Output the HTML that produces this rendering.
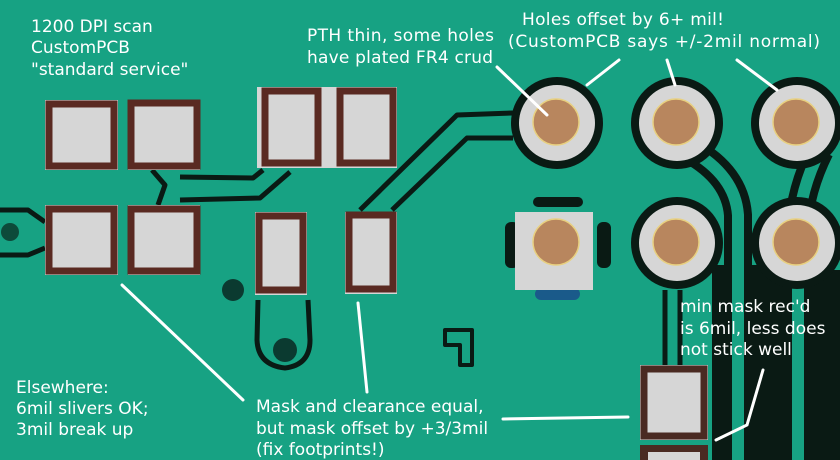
<!DOCTYPE html>
<html><head><meta charset="utf-8"><style>
html,body{margin:0;padding:0;background:#17a283}
svg{display:block}
text{font-family:"DejaVu Sans","Liberation Sans",sans-serif;font-size:17px;fill:#fff}
</style></head><body>
<svg width="840" height="460" viewBox="0 0 840 460" xmlns="http://www.w3.org/2000/svg">
<rect width="840" height="460" fill="#17a283"/>
<!-- right dark region -->
<g fill="#0a1a14">
<rect x="712" y="265" width="22" height="195"/>
<rect x="744" y="265" width="48" height="195"/>
<rect x="805" y="270" width="35" height="190"/>
</g>
<path d="M690 150 Q735 175 738 215 L738 460" fill="none" stroke="#0a1a14" stroke-width="28"/>
<path d="M820 150 Q800 190 798 230 L798 460" fill="none" stroke="#0a1a14" stroke-width="28"/>
<path d="M690 150 Q735 175 738 215 L738 460" fill="none" stroke="#17a283" stroke-width="12"/>
<path d="M820 150 Q800 190 798 230 L798 460" fill="none" stroke="#17a283" stroke-width="12"/>
<!-- trace lines -->
<g fill="none" stroke="#0a1a14" stroke-width="5" stroke-linejoin="round">
<path d="M513 113 L457 115 L360 210"/>
<path d="M513 138 L467 138 L392 210"/>
<path d="M180 177 L253 178 L263 170"/>
<path d="M180 200 L260 198 L290 172"/>
<path d="M152 170 L165 185 L158 205"/>
<path d="M0 210 L28 210 L45 222"/>
<path d="M0 255 L28 255 L45 248"/>
<path d="M665 290 L665 365"/>
<path d="M680 290 L680 365"/>
<path d="M258 300 L257 340 Q258 365 285 368 Q310 365 310 340 L308 300"/>
<path d="M445 330 L445 345 L460 345 L460 365 L472 365 L472 330 Z" stroke-width="4"/>
</g>
<circle cx="10" cy="232" r="9" fill="#0d4a3a"/>
<circle cx="233" cy="290" r="11" fill="#0b3a30"/>
<circle cx="285" cy="350" r="12" fill="#0b3a30"/>
<!-- small pads -->
<g>
<rect x="45" y="100" width="73" height="70" fill="#d6d6d6"/>
<rect x="49" y="104" width="65" height="62" fill="none" stroke="#5a2a22" stroke-width="7"/>
<rect x="128" y="100" width="72" height="70" fill="#d6d6d6"/>
<rect x="131" y="103" width="66" height="63" fill="none" stroke="#5a2a22" stroke-width="7"/>
<rect x="45" y="205" width="73" height="70" fill="#d6d6d6"/>
<rect x="49" y="209" width="65" height="62" fill="none" stroke="#5a2a22" stroke-width="7"/>
<rect x="128" y="205" width="72" height="70" fill="#d6d6d6"/>
<rect x="131" y="209" width="66" height="62" fill="none" stroke="#5a2a22" stroke-width="7"/>
<rect x="257" y="87" width="140" height="81" fill="#d6d6d6"/>
<rect x="265" y="91" width="53" height="72" fill="none" stroke="#5a2a22" stroke-width="7"/>
<rect x="340" y="91" width="53" height="72" fill="none" stroke="#5a2a22" stroke-width="7"/>
<rect x="255" y="212" width="52" height="83" fill="#d6d6d6"/>
<rect x="259" y="216" width="44" height="74" fill="none" stroke="#5a2a22" stroke-width="7"/>
<rect x="345" y="212" width="52" height="82" fill="#d6d6d6"/>
<rect x="349" y="215" width="44" height="74" fill="none" stroke="#5a2a22" stroke-width="7"/>
<rect x="640" y="365" width="68" height="75" fill="#d6d6d6"/>
<rect x="644" y="369" width="60" height="67" fill="none" stroke="#4a2a22" stroke-width="7"/>
<rect x="640" y="445" width="68" height="15" fill="#4a2a22"/>
<rect x="648" y="452" width="52" height="8" fill="#d6d6d6"/>
</g>
<!-- holes -->
<g>
<circle cx="557" cy="123" r="46" fill="#0a1a14"/>
<circle cx="677" cy="123" r="46" fill="#0a1a14"/>
<circle cx="797" cy="123" r="46" fill="#0a1a14"/>
<circle cx="677" cy="243" r="46" fill="#0a1a14"/>
<circle cx="797" cy="243" r="46" fill="#0a1a14"/>
<rect x="533" y="197" width="50" height="10" rx="5" fill="#0a1a14"/>
<rect x="505" y="222" width="14" height="46" rx="6" fill="#0a1a14"/>
<rect x="597" y="222" width="14" height="46" rx="6" fill="#0a1a14"/>
<rect x="535" y="288" width="45" height="12" rx="6" fill="#1a5a8a"/>
<rect x="515" y="212" width="78" height="78" fill="#d6d6d6"/>
<circle cx="557" cy="123" r="38" fill="#d6d6d6"/>
<circle cx="677" cy="123" r="38" fill="#d6d6d6"/>
<circle cx="797" cy="123" r="38" fill="#d6d6d6"/>
<circle cx="677" cy="243" r="38" fill="#d6d6d6"/>
<circle cx="797" cy="243" r="38" fill="#d6d6d6"/>
<g fill="#b8865e" stroke="#e8d080" stroke-width="1.5">
<circle cx="556" cy="122" r="23"/>
<circle cx="676" cy="122" r="23"/>
<circle cx="796" cy="122" r="23"/>
<circle cx="556" cy="242" r="23"/>
<circle cx="676" cy="242" r="23"/>
<circle cx="796" cy="242" r="23"/>
</g>
</g>
<!-- leader lines -->
<g stroke="#fff" stroke-width="3" fill="none" stroke-linecap="round">
<path d="M497 67 L547 115"/>
<path d="M619 60 L587 85"/>
<path d="M667 60 L675 85"/>
<path d="M737 60 L777 90"/>
<path d="M122 285 L243 400"/>
<path d="M358 303 L367 392"/>
<path d="M503 419 L628 417"/>
<path d="M763 370 L747 425 L716 440"/>
</g>
<!-- text -->
<text x="31" y="32">1200 DPI scan</text>
<text x="31" y="53">CustomPCB</text>
<text x="31" y="75">"standard service"</text>
<text x="307" y="41" textLength="187">PTH thin, some holes</text>
<text x="307" y="63" textLength="186">have plated FR4 crud</text>
<text x="522" y="25" textLength="202">Holes offset by 6+ mil!</text>
<text x="508" y="47" textLength="312">(CustomPCB says +/-2mil normal)</text>
<text x="680" y="312">min mask rec'd</text>
<text x="680" y="334">is 6mil, less does</text>
<text x="680" y="355">not stick well</text>
<text x="16" y="393">Elsewhere:</text>
<text x="16" y="414">6mil slivers OK;</text>
<text x="16" y="435">3mil break up</text>
<text x="256" y="412">Mask and clearance equal,</text>
<text x="256" y="434">but mask offset by +3/3mil</text>
<text x="256" y="455">(fix footprints!)</text>
</svg>
</body></html>
